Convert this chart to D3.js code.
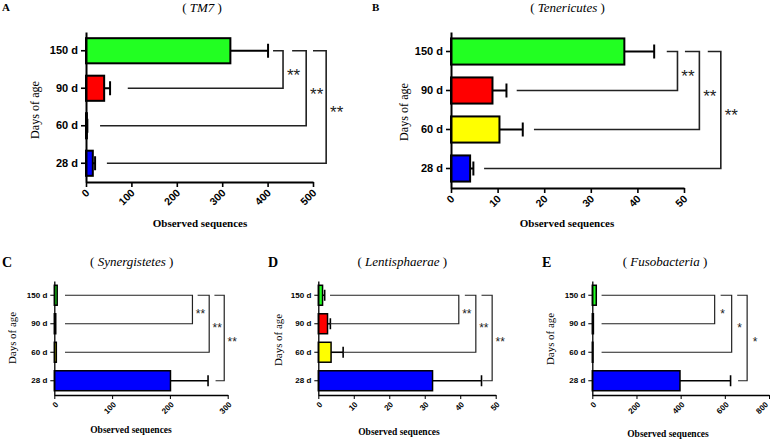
<!DOCTYPE html>
<html>
<head>
<meta charset="utf-8">
<script src="https://cdn.jsdelivr.net/npm/d3@7"></script>
<style>
  html, body { margin: 0; padding: 0; background: #fff; }
  svg { display: block; }
</style>
</head>
<body>
<svg id="chart" width="771" height="440"></svg>
<script>
// ---------------- DATA ----------------
const categories = ["150 d", "90 d", "60 d", "28 d"];
const barColors = ["#22ff22", "#ff0000", "#ffff00", "#0000ff"];

// A: TM7
const taxonA = "TM7";
const valuesA = [318, 40, 2, 15];
const errorsA = [401, 53, 3, 20];
const ticksA = [0, 100, 200, 300, 400, 500];
const bracketsA = [
  { top: "150 d", bottom: "90 d", topStart: 412, bottomStart: 92, at: 434, label: "**" },
  { top: "150 d", bottom: "60 d", topStart: 454, bottomStart: 31, at: 485, label: "**" },
  { top: "150 d", bottom: "28 d", topStart: 500, bottomStart: 46, at: 529, label: "**" }
];

// B: Tenericutes
const taxonB = "Tenericutes";
const valuesB = [37.2, 8.9, 10.4, 4.1];
const errorsB = [43.6, 11.9, 15.4, 4.8];
const ticksB = [0, 10, 20, 30, 40, 50];
const bracketsB = [
  { top: "150 d", bottom: "90 d", topStart: 46.3, bottomStart: 14.1, at: 48.6, label: "**" },
  { top: "150 d", bottom: "60 d", topStart: 50.2, bottomStart: 17.8, at: 53.3, label: "**" },
  { top: "150 d", bottom: "28 d", topStart: 55.1, bottomStart: 7.1, at: 57.9, label: "**" }
];

// C: Synergistetes
const taxonC = "Synergistetes";
const valuesC = [5, 2.5, 3.5, 201];
const errorsC = [5, 2.5, 3.5, 266];
const ticksC = [0, 100, 200, 300];
const bracketsC = [
  { top: "150 d", bottom: "90 d", topStart: 18.5, bottomStart: 18.5, at: 239, label: "**" },
  { top: "150 d", bottom: "60 d", topStart: 248, bottomStart: 18.5, at: 268, label: "**" },
  { top: "150 d", bottom: "28 d", topStart: 277, bottomStart: 279, at: 294, label: "**" }
];

// D: Lentisphaerae
const taxonD = "Lentisphaerae";
const valuesD = [1.2, 2.6, 3.6, 32.2];
const errorsD = [1.8, 3.4, 7.0, 46.0];
const ticksD = [0, 10, 20, 30, 40, 50];
const bracketsD = [
  { top: "150 d", bottom: "90 d", topStart: 3.3, bottomStart: 3.3, at: 39.6, label: "**" },
  { top: "150 d", bottom: "60 d", topStart: 41.3, bottomStart: 7.0, at: 44.4, label: "**" },
  { top: "150 d", bottom: "28 d", topStart: 46.0, bottomStart: 46.3, at: 49.0, label: "**" }
];

// E: Fusobacteria
const taxonE = "Fusobacteria";
const valuesE = [18, 5, 3, 397];
const errorsE = [18, 5, 3, 626];
const ticksE = [0, 200, 400, 600, 800];
const bracketsE = [
  { top: "150 d", bottom: "90 d", topStart: 42, bottomStart: 42, at: 554, label: "*" },
  { top: "150 d", bottom: "60 d", topStart: 581, bottomStart: 42, at: 631, label: "*" },
  { top: "150 d", bottom: "28 d", topStart: 656, bottomStart: 660, at: 701, label: "*" }
];

// ---------------- LAYOUT / STYLE ----------------
const big = {
  yFont: 11, xFont: 10.5, axisW: 2, barW: 2, brW: 1.6, starFont: 17, starDx: 10.5,
  capH: 14, barRatio: 0.67, errW: 2, tickY: 5, tickX: 5, titleFont: 13, labelFont: 11,
  axTitleFont: 11, daysFont: 13, daysLen: 58, xLab: [1, 9]
};
const small = {
  yFont: 8, xFont: 8, axisW: 1.3, barW: 1.5, brW: 1.2, starFont: 12, starDx: 8,
  capH: 11, barRatio: 0.7, errW: 1.6, tickY: 4, tickX: 4, titleFont: 13, labelFont: 14,
  axTitleFont: 9.5, daysFont: 11, daysLen: 52, xLab: [2, 8]
};

const panels = [
  { letter: "A", taxon: taxonA, values: valuesA, errors: errorsA, ticks: ticksA, brackets: bracketsA,
    style: big, x0: 86, x1: 313, y0: 32, y1: 182,
    letterPos: [2, 10.5], titlePos: [202, 12], axTitlePos: [200, 227], daysPos: [34, 110] },
  { letter: "B", taxon: taxonB, values: valuesB, errors: errorsB, ticks: ticksB, brackets: bracketsB,
    style: big, x0: 451, x1: 684, y0: 32, y1: 188,
    letterPos: [372, 10.5], titlePos: [567.5, 12], axTitlePos: [567, 227], daysPos: [403, 112] },
  { letter: "C", taxon: taxonC, values: valuesC, errors: errorsC, ticks: ticksC, brackets: bracketsC,
    style: small, x0: 54.3, x1: 227.7, y0: 281, y1: 395,
    letterPos: [2, 267], titlePos: [131.7, 266], axTitlePos: [131, 433], daysPos: [12, 338] },
  { letter: "D", taxon: taxonD, values: valuesD, errors: errorsD, ticks: ticksD, brackets: bracketsD,
    style: small, x0: 318.3, x1: 495.7, y0: 281, y1: 395,
    letterPos: [268, 267], titlePos: [402.3, 266], axTitlePos: [399, 435], daysPos: [278, 340] },
  { letter: "E", taxon: taxonE, values: valuesE, errors: errorsE, ticks: ticksE, brackets: bracketsE,
    style: small, x0: 592.3, x1: 769, y0: 281, y1: 395,
    letterPos: [542, 267], titlePos: [665, 266], axTitlePos: [668, 437], daysPos: [550, 339] }
];

const svg = d3.select("#chart");
const SERIF = "'Liberation Serif', 'Times New Roman', serif";
const SANS = "'Liberation Sans', Arial, sans-serif";
const W = 771;

panels.forEach(p => {
  const s = p.style;
  const g = svg.append("g");
  const x = d3.scaleLinear().domain([p.ticks[0], p.ticks[p.ticks.length - 1]]).range([p.x0, p.x1]);
  const y = d3.scaleBand().domain(categories).range([p.y0, p.y1]).padding(0);
  const cy = c => y(c) + y.bandwidth() / 2;
  const bh = y.bandwidth() * s.barRatio;

  // Bars
  g.selectAll("rect.bar").data(categories).join("rect")
    .attr("class", "bar")
    .attr("x", x(0))
    .attr("y", c => cy(c) - bh / 2)
    .attr("width", (c, i) => Math.max(0, x(p.values[i]) - x(0)))
    .attr("height", bh)
    .attr("fill", (c, i) => barColors[i])
    .attr("stroke", "#000")
    .attr("stroke-width", s.barW);

  // Error bars
  categories.forEach((c, i) => {
    if (p.errors[i] > p.values[i]) {
      g.append("line")
        .attr("x1", x(p.values[i])).attr("x2", x(p.errors[i]))
        .attr("y1", cy(c)).attr("y2", cy(c))
        .attr("stroke", "#000").attr("stroke-width", s.errW);
      g.append("line")
        .attr("x1", x(p.errors[i])).attr("x2", x(p.errors[i]))
        .attr("y1", cy(c) - s.capH / 2).attr("y2", cy(c) + s.capH / 2)
        .attr("stroke", "#000").attr("stroke-width", s.errW);
    }
  });

  // Significance brackets
  p.brackets.forEach(b => {
    const yt = cy(b.top), yb = cy(b.bottom), xv = x(b.at);
    g.append("path")
      .attr("d", `M${x(b.topStart)},${yt}H${xv}V${yb}H${x(b.bottomStart)}`)
      .attr("fill", "none").attr("stroke", "#222").attr("stroke-width", s.brW);
    g.append("text")
      .attr("x", xv + s.starDx)
      .attr("y", (yt + yb) / 2 + 0.58 * s.starFont + 1.5)
      .attr("text-anchor", "middle")
      .attr("font-family", SANS)
      .attr("font-size", s.starFont)
      .attr("fill", "#222")
      .text(b.label);
  });

  // Y axis
  const yAx = g.append("g").attr("transform", `translate(${p.x0},0)`)
    .call(d3.axisLeft(y).tickSize(s.tickY).tickSizeOuter(0).tickPadding(3));
  yAx.select(".domain").attr("stroke", "#000").attr("stroke-width", s.axisW);
  yAx.selectAll(".tick line").attr("stroke", "#000").attr("stroke-width", s.axisW * 0.8);
  yAx.selectAll("text").attr("font-family", SANS).attr("font-weight", "bold")
    .attr("font-size", s.yFont).attr("fill", "#000");

  // X axis
  const xAx = g.append("g").attr("transform", `translate(0,${p.y1})`)
    .call(d3.axisBottom(x).tickValues(p.ticks).tickFormat(d3.format("d")).tickSize(s.tickX).tickSizeOuter(0));
  xAx.select(".domain").attr("stroke", "#000").attr("stroke-width", s.axisW);
  xAx.selectAll(".tick line").attr("stroke", "#000").attr("stroke-width", s.axisW * 0.8);
  xAx.selectAll("text")
    .attr("x", 0).attr("y", 0).attr("dy", "0.35em")
    .attr("transform", `translate(${s.xLab[0]},${s.xLab[1]}) rotate(-45)`)
    .style("text-anchor", "end")
    .attr("font-family", SANS).attr("font-weight", "bold")
    .attr("font-size", s.xFont).attr("fill", "#000");
  // keep labels inside the page's right edge
  xAx.selectAll("text").each(function () {
    const r = this.getBoundingClientRect();
    if (r.right > W - 0.5) {
      const shift = r.right - (W - 0.5);
      d3.select(this).attr("transform",
        `translate(${s.xLab[0] - shift},${s.xLab[1]}) rotate(-45)`);
    }
  });

  // Panel letter
  svg.append("text")
    .attr("x", p.letterPos[0]).attr("y", p.letterPos[1])
    .attr("font-family", SERIF).attr("font-weight", "bold")
    .attr("font-size", s.labelFont).attr("fill", "#000")
    .text(p.letter);

  // Title
  const t = svg.append("text")
    .attr("x", p.titlePos[0]).attr("y", p.titlePos[1])
    .attr("text-anchor", "middle")
    .attr("font-family", SERIF).attr("font-size", s.titleFont).attr("fill", "#000");
  t.append("tspan").text("( ");
  t.append("tspan").attr("font-style", "italic").text(p.taxon);
  t.append("tspan").text(" )");

  // X axis title
  svg.append("text")
    .attr("x", p.axTitlePos[0]).attr("y", p.axTitlePos[1])
    .attr("text-anchor", "middle")
    .attr("font-family", SERIF).attr("font-weight", "bold")
    .attr("font-size", s.axTitleFont).attr("fill", "#000")
    .text("Observed sequences");

  // Y axis title
  svg.append("text")
    .attr("transform", `translate(${p.daysPos[0]},${p.daysPos[1]}) rotate(-90)`)
    .attr("x", 0).attr("y", 0).attr("dy", "0.35em")
    .attr("text-anchor", "middle")
    .attr("font-family", SERIF)
    .attr("font-size", s.daysFont).attr("fill", "#000")
    .attr("textLength", s.daysLen).attr("lengthAdjust", "spacingAndGlyphs")
    .text("Days of age");
});
</script>
</body>
</html>
